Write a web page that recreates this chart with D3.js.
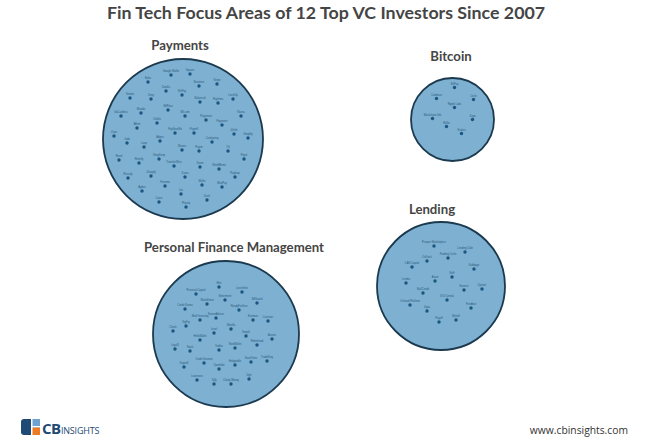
<!DOCTYPE html>
<html>
<head>
<meta charset="utf-8">
<script src="https://cdn.jsdelivr.net/npm/d3@7"></script>
<style>
  html, body { margin: 0; padding: 0; background: #fff; }
  svg { display: block; }
</style>
</head>
<body>
<div id="chart"></div>
<script>
// ---------- DATA ----------
const title = "Fin Tech Focus Areas of 12 Top VC Investors Since 2007";
const areas = ["Payments", "Bitcoin", "Lending", "Personal Finance Management"];
const areaSizes = [80, 41.5, 64, 73]; // bubble radius (size units)

const paymentsNames = ["Google Wallet","Square","Boku","Braintree","Stripe","Dwolla","WePay","Venmo","Zong","Balanced","Payfirma","LevelUp","BillFloat","Mozido","GoCardless","Bill.com","Payvment","Klarna","Clinkle","Payoneer","Affirm","PayNearMe","Paymill","iZettle","Zooz","Simplify","Judo","Adyen","Cardspring","Loop","Moven","Paytm","Tilt","Revel","ShopKeep","Poynt","Remitly","TransferWise","Xoom","WorldRemit","Recurly","Chargify","Zuora","Payleap","Fortumo","Mollie","BluePay","Ayden","Isis","Cover","Dosh","Plastiq"];
const paymentsX = [-12,7,-35,16,34,-17,-1,-53,-32,17,35,50,-15,-42,-62,2,23,58,-26,39,-46,-8,11,51,-69,65,-56,-23,29,-39,-1,16,45,-64,-24,61,-44,-9,17,36,-55,-32,2,52,-18,19,39,-41,-2,-24,24,3];
const paymentsY = [-64,-65,-57,-53,-55,-48,-44,-41,-40,-37,-36,-40,-29,-26,-23,-23,-19,-23,-16,-14,-11,-6,-6,-5,-3,-1,4,2,3,8,11,12,12,21,20,20,24,27,28,30,39,37,38,38,47,46,48,52,55,63,61,68];

const bitcoinNames = ["BitPay","Coinbase","Circle","Ripple Labs","Blockchain Info","Xapo","BitGo","Kraken"];
const bitcoinX = [2,-16,21,2,-20,20,-6,9];
const bitcoinY = [-32,-21,-20,-12,-1,0,7,14];

const lendingNames = ["Prosper Marketplace","Lending Club","Funding Circle","OnDeck","CAN Capital","Kabbage","SoFi","Avant","Lendio","Upstart","Earnest","Biz2Credit","IOU Central","Orchard Platform","Fundbox","Zopa","Behalf","Payoff"];
const lendingX = [-7,24,7,-14,-29,33,11,-6,-35,41,23,-18,6,-31,30,-14,15,-2];
const lendingY = [-40,-34,-28,-25,-19,-17,-9,-5,-3,3,4,7,14,19,22,25,34,36];

const pfmNames = ["Mint","Personal Capital","LearnVest","Betterment","Wealthfront","BillGuard","Credit Karma","ReadyForZero","Motif Investing","FutureAdvisor","Estimize","Covestor","SigFig","Check","Manilla","Level","Simple","HelloWallet","Acorns","Robinhood","Loyal3","Stash","Yodlee","NerdWallet","Credit Sesame","TradeKing","Kapitall","Openfolio","Hedgeable","StockTwits","Learnvest","Digit","Tally","Clarity Money"];
const pfmX = [-7,-30,16,-1,-19,31,-41,13,-26,-10,27,42,-40,-53,5,-12,20,-26,46,31,-51,-36,-7,9,-22,41,-42,-7,9,25,-29,23,-12,5];
const pfmY = [-47,-40,-42,-34,-30,-31,-25,-24,-14,-16,-14,-13,-8,-3,-5,-1,2,6,5,11,15,17,16,14,29,27,33,35,31,28,46,45,50,50];

const areaNames = [paymentsNames, bitcoinNames, lendingNames, pfmNames];
const areaX = [paymentsX, bitcoinX, lendingX, pfmX];
const areaY = [paymentsY, bitcoinY, lendingY, pfmY];

// ---------- LAYOUT ----------
const W = 650, H = 445;
const layout = [
  {cx: 183, cy: 139, labelX: 180, labelY: 50},
  {cx: 452.5, cy: 119.5, labelX: 451, labelY: 61},
  {cx: 441, cy: 286, labelX: 432, labelY: 214},
  {cx: 226, cy: 334, labelX: 234, labelY: 252}
];

const svg = d3.select("#chart").append("svg")
  .attr("width", W).attr("height", H);

svg.append("rect").attr("width", W).attr("height", H).attr("fill", "#fff");

svg.append("text")
  .attr("x", 326).attr("y", 19)
  .attr("text-anchor", "middle")
  .attr("font-family", "Lato, 'Open Sans', sans-serif")
  .attr("font-weight", "bold")
  .attr("font-size", 17.8)
  .attr("fill", "#454545")
  .text(title);

const rScale = d3.scaleLinear().domain([0, 1]).range([0, 1]);

areas.forEach((name, i) => {
  const L = layout[i];
  const r = rScale(areaSizes[i]);
  const g = svg.append("g");
  const sx = d3.scaleLinear().domain([-areaSizes[i], areaSizes[i]]).range([L.cx - r, L.cx + r]);
  const sy = d3.scaleLinear().domain([-areaSizes[i], areaSizes[i]]).range([L.cy - r, L.cy + r]);

  g.append("circle")
    .attr("cx", sx(0)).attr("cy", sy(0)).attr("r", r)
    .attr("fill", "#7db0d1")
    .attr("stroke", "#1c3a4f")
    .attr("stroke-width", 1.8);

  svg.append("text")
    .attr("x", L.labelX).attr("y", L.labelY)
    .attr("text-anchor", "middle")
    .attr("font-family", "Lato, 'Open Sans', sans-serif")
    .attr("font-weight", "bold")
    .attr("font-size", 13.2)
    .attr("fill", "#454545")
    .text(name);

  const pts = areaNames[i].map((n, j) => ({name: n, x: areaX[i][j], y: areaY[i][j]}));
  const pg = g.selectAll("g.pt").data(pts).enter().append("g").attr("class", "pt");
  pg.append("circle")
    .attr("cx", d => sx(d.x)).attr("cy", d => sy(d.y))
    .attr("r", 1.7)
    .attr("fill", "#1b5680");
  pg.append("text")
    .attr("x", d => sx(d.x)).attr("y", d => sy(d.y) - 3)
    .attr("text-anchor", "middle")
    .attr("font-family", "Arial, 'Liberation Sans', sans-serif")
    .attr("font-size", 2.6)
    .attr("fill", "#2a5878")
    .text(d => d.name);
});

// ---------- LOGO ----------
const logo = svg.append("g").attr("transform", "translate(21,419)");
logo.append("rect").attr("x", 0).attr("y", 0).attr("width", 19).attr("height", 16).attr("rx", 3).attr("fill", "#1e4a75");
logo.append("rect").attr("x", 11).attr("y", 0).attr("width", 8).attr("height", 7).attr("fill", "#6fa3cf");
logo.append("rect").attr("x", 11).attr("y", 8.5).attr("width", 8).attr("height", 7.5).attr("fill", "#ee7a22");
logo.append("rect").attr("x", 10).attr("y", 0).attr("width", 1.5).attr("height", 16).attr("fill", "#fff");
logo.append("rect").attr("x", 10).attr("y", 7).attr("width", 9).attr("height", 1.5).attr("fill", "#fff");
const lt = svg.append("text").attr("x", 42).attr("y", 434)
  .attr("font-family", "'Open Sans', Arial, sans-serif").attr("fill", "#1e4a75");
lt.append("tspan").attr("font-size", 15).attr("font-weight", "bold").attr("letter-spacing", -0.5).text("CB");
lt.append("tspan").attr("font-size", 9).attr("dx", 0.3).attr("letter-spacing", -0.2).text("INSIGHTS");

svg.append("text")
  .attr("x", 628).attr("y", 434)
  .attr("text-anchor", "end")
  .attr("font-family", "'Open Sans', Arial, sans-serif")
  .attr("font-size", 10.3)
  .attr("fill", "#333")
  .text("www.cbinsights.com");
</script>
</body>
</html>
